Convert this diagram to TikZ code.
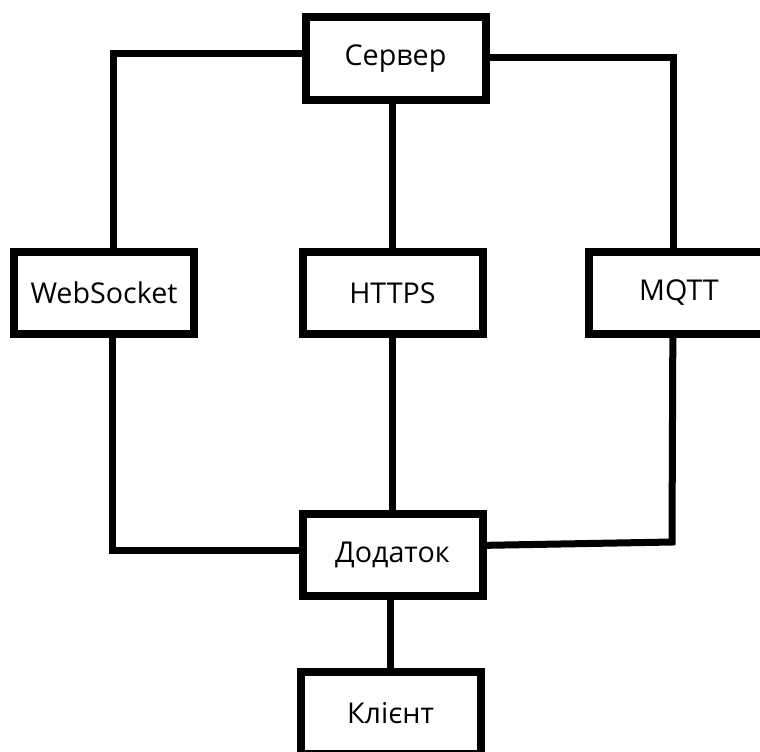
\documentclass[tikz,border=0pt]{standalone}
\usepackage{fontspec}
\setmainfont{Open Sans}
\usetikzlibrary{backgrounds}
\begin{document}
\begin{tikzpicture}[x=0.75pt,y=-0.75pt,
  blk/.style={draw=black, line width=6pt, fill=white, inner sep=0pt,
    minimum width=135pt, minimum height=61.5pt, font=\fontsize{21.5}{25}\selectfont},
  wire/.style={draw=black, line width=5.25pt, line join=miter, line cap=butt}]
\useasboundingbox (0,0) rectangle (760,751);
\clip (0,0) rectangle (760,751);

% boxes
\node[blk, minimum height=62.25pt] (srv) at (395.5,58.5) {Сервер};
\node[blk] (ws) at (104,293) {WebSocket};
\node[blk] (https) at (392.5,293) {HTTPS};
\node[blk] (mq) at (679,293) {MQTT};
\node[blk] (app) at (392.5,555) {Додаток};
\node[blk] (cl) at (390.5,713) {Клієнт};

% bend points of the connectors
\coordinate (tl) at (113,53);
\coordinate (tr) at (673,57);
\coordinate (bl) at (112,550);
\coordinate (br) at (672,542);
\coordinate (brin) at (392,547);

\begin{scope}[on background layer]
\fill[white] (0,0) rectangle (760,751);
% server to the three protocols
\draw[wire] (srv.center |- tl) -- (tl) -- (tl |- ws.center);
\draw[wire] (srv.center |- tr) -- (tr) -- (tr |- mq.center);
\draw[wire] (https.center |- srv.center) -- (https.center);
% protocols to the application
\draw[wire] (bl |- ws.center) -- (bl) -- (app.center |- bl);
\draw[wire] (https.center) -- (https.center |- app.center);
\draw[wire] (tr |- mq.center) -- (br) -- (brin);
% application to the client
\draw[wire] (cl.center |- app.center) -- (cl.center);
\end{scope}
\end{tikzpicture}
\end{document}
